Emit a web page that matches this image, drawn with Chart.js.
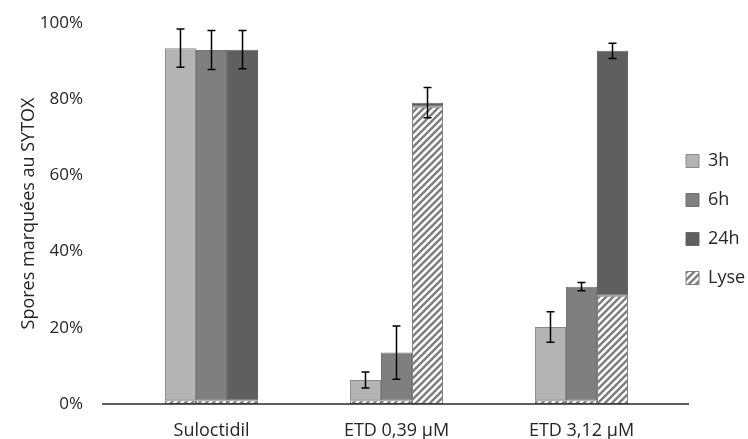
<!DOCTYPE html>
<html>
<head>
<meta charset="utf-8">
<script src="https://cdn.jsdelivr.net/npm/chart.js@4"></script>
<style>
html, body { margin: 0; padding: 0; background: #fff; }
#wrap { width: 748px; height: 439px; }
</style>
</head>
<body>
<div id="wrap"><canvas id="sytox"></canvas></div>
<script>
const categories = ['Suloctidil', 'ETD 0,39 µM', 'ETD 3,12 µM'];
// total % of SYTOX-labelled spores (lysed part included)
const total3h = [93.4, 6.3, 20.2];
const total6h = [92.9, 13.5, 30.8];
const total24h = [93.0, 79.1, 92.7];
// lysed part, hatched at the bottom of each bar
const lyse3h = [1, 1, 1];
const lyse6h = [1, 1, 1];
const lyse24h = [1, 78.0, 28.4];
// error bars (+/-)
const err3h = [5.0, 2.1, 4.0];
const err6h = [5.1, 7.0, 1.1];
const err24h = [5.0, 4.0, 2.0];
const yTicks = [0, 20, 40, 60, 80, 100];

const textCol = '#262626';
const font = "'Open Sans'";

function hatch() {
  const s = 7;
  const c = document.createElement('canvas');
  c.width = s; c.height = s;
  const g = c.getContext('2d');
  g.fillStyle = '#fff';
  g.fillRect(0, 0, s, s);
  g.strokeStyle = '#808080';
  g.lineWidth = 2.5;
  g.beginPath();
  g.moveTo(0, s); g.lineTo(s, 0);
  g.moveTo(-s / 2, s / 2); g.lineTo(s / 2, -s / 2);
  g.moveTo(s / 2, s * 1.5); g.lineTo(s * 1.5, s / 2);
  g.stroke();
  return g.createPattern(c, 'repeat');
}
const lysePattern = hatch();

function minus(a, b) { return a.map((v, i) => v - b[i]); }

function lyseSet(data, stack, hidden) {
  return {
    label: 'Lyse', data: data, stack: stack, hideInLegend: hidden,
    backgroundColor: lysePattern, borderColor: '#808080', borderWidth: 1, borderSkipped: false
  };
}
function timeSet(label, totals, lyse, errs, stack, fill, border) {
  return {
    label: label, data: minus(totals, lyse), stack: stack,
    totals: totals, errors: errs,
    backgroundColor: fill, borderColor: border, borderWidth: 1, borderSkipped: false
  };
}

const datasets = [
  lyseSet(lyse3h, 'a', true),
  lyseSet(lyse6h, 'b', true),
  lyseSet(lyse24h, 'c', false),
  timeSet('3h', total3h, lyse3h, err3h, 'a', '#b4b4b4', '#8a8a8a'),
  timeSet('6h', total6h, lyse6h, err6h, 'b', '#7f7f7f', '#747474'),
  timeSet('24h', total24h, lyse24h, err24h, 'c', '#5f5f5f', '#666666')
];

const errorBars = {
  id: 'errorBars',
  afterDatasetsDraw(chart) {
    const ctx = chart.ctx, y = chart.scales.y;
    // x axis line, a bit wider than the plot area
    const y0 = y.getPixelForValue(0);
    ctx.save();
    ctx.strokeStyle = '#2a2a2a';
    ctx.lineWidth = 1.3;
    ctx.beginPath();
    ctx.moveTo(chart.chartArea.left - 17, y0);
    ctx.lineTo(chart.chartArea.right + 15, y0);
    ctx.stroke();
    ctx.strokeStyle = '#000';
    ctx.lineWidth = 1.5;
    chart.data.datasets.forEach((ds, di) => {
      if (!ds.errors) return;
      chart.getDatasetMeta(di).data.forEach((bar, i) => {
        const t = y.getPixelForValue(ds.totals[i] + ds.errors[i]);
        const b = y.getPixelForValue(ds.totals[i] - ds.errors[i]);
        ctx.beginPath();
        ctx.moveTo(bar.x, t); ctx.lineTo(bar.x, b);
        ctx.moveTo(bar.x - 4, t); ctx.lineTo(bar.x + 4, t);
        ctx.moveTo(bar.x - 4, b); ctx.lineTo(bar.x + 4, b);
        ctx.stroke();
      });
    });
    ctx.restore();
  }
};

// put the legend close to the plot area
const legendShift = {
  id: 'legendShift',
  afterLayout(chart) {
    const lg = chart.legend;
    const w = lg.right - lg.left;
    lg.left = chart.chartArea.right + 12 - lg.options.labels.padding;
    lg.right = lg.left + w + 20;
    lg.top = 0;
    lg.bottom = 439;
  }
};

new Chart(document.getElementById('sytox'), {
  type: 'bar',
  data: { labels: categories, datasets: datasets },
  options: {
    responsive: true,
    maintainAspectRatio: false,
    animation: false,
    categoryPercentage: 0.503,
    barPercentage: 1.0,
    layout: { padding: { top: 23, left: 0, right: 0, bottom: 0 } },
    plugins: {
      tooltip: { enabled: false },
      legend: {
        position: 'right',
        maxWidth: 74,
        labels: {
          font: { family: font, size: 18 },
          color: textCol,
          boxWidth: 13,
          boxHeight: 13,
          padding: 21,
          filter: (item, data) => !data.datasets[item.datasetIndex].hideInLegend,
          sort: (a, b) => (a.text === 'Lyse' ? 9 : a.datasetIndex) - (b.text === 'Lyse' ? 9 : b.datasetIndex)
        }
      }
    },
    scales: {
      x: {
        stacked: true,
        grid: { display: false, drawTicks: false },
        border: { display: false },
        ticks: { font: { family: font, size: 18, lineHeight: 1 }, color: textCol, padding: 18 },
        afterFit: (s) => { s.height = 35; s.paddingLeft = 0; s.paddingRight = 0; }
      },
      y: {
        stacked: true,
        min: 0,
        max: 100,
        grid: { display: false, drawTicks: false },
        border: { display: false },
        afterBuildTicks: (s) => { s.ticks = yTicks.map(v => ({ value: v })); },
        ticks: {
          font: { family: font, size: 17 }, color: textCol, padding: 36,
          callback: (v) => v + '%'
        },
        title: {
          display: true,
          text: 'Spores marquées au SYTOX',
          font: { family: font, size: 18 },
          color: textCol,
          padding: { top: 18, bottom: 0 }
        },
        afterFit: (s) => { s.width = 119; s.paddingTop = 0; s.paddingBottom = 0; }
      }
    }
  },
  plugins: [errorBars, legendShift]
});
</script>
</body>
</html>
